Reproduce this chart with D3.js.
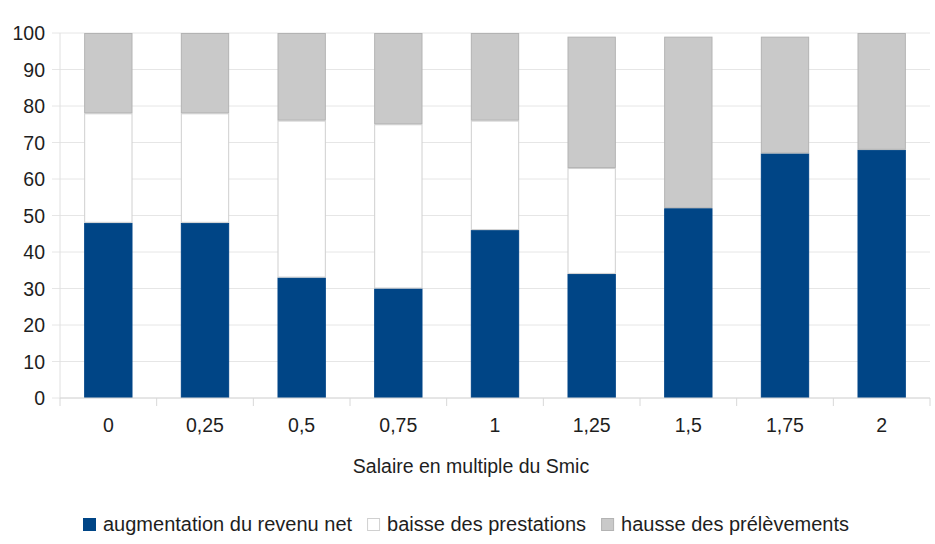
<!DOCTYPE html>
<html>
<head>
<meta charset="utf-8">
<script src="https://cdn.jsdelivr.net/npm/d3@7/dist/d3.min.js"></script>
<style>
  html, body { margin: 0; padding: 0; background: #fff; }
  svg { display: block; font-family: "Liberation Sans", Arial, sans-serif; }
</style>
</head>
<body>
<svg id="chart" width="935" height="544"></svg>
<script>
// Décomposition du gain par niveau de salaire (en %)
const categories = ["0", "0,25", "0,5", "0,75", "1", "1,25", "1,5", "1,75", "2"];
const revenuNet   = [48, 48, 33, 30, 46, 34, 52, 67, 68];
const prestations = [30, 30, 43, 45, 30, 29, 0, 0, 0];
const prelevements = [22, 22, 24, 25, 24, 36, 47, 32, 32];
const seriesNames = ["augmentation du revenu net", "baisse des prestations", "hausse des prélèvements"];
const yTicks = [0, 10, 20, 30, 40, 50, 60, 70, 80, 90, 100];

const fills = ["#004586", "#ffffff", "#c9c9c9"];
const strokes = ["#004586", "#d0d0d0", "#b3b3b3"];
const textColor = "#1e1e1e";

const svg = d3.select("#chart");
const margin = { left: 60, right: 5, top: 33, bottom: 146 };
const W = 935, H = 544;
const plotW = W - margin.left - margin.right;
const plotH = H - margin.top - margin.bottom;

const x = d3.scaleBand().domain(categories).range([margin.left, margin.left + plotW])
  .paddingInner(0.5).paddingOuter(0.25);
const y = d3.scaleLinear().domain([0, 100]).range([margin.top + plotH, margin.top]);

// grille horizontale
svg.append("g").selectAll("line").data(yTicks).join("line")
  .attr("x1", margin.left - 8).attr("x2", margin.left + plotW)
  .attr("y1", d => y(d)).attr("y2", d => y(d))
  .attr("stroke", "#e6e6e6").attr("stroke-width", 1);

// axe vertical
svg.append("line")
  .attr("x1", margin.left).attr("x2", margin.left)
  .attr("y1", y(100)).attr("y2", y(0))
  .attr("stroke", "#e0e0e0");

// libellés de l'axe Y
svg.append("g").selectAll("text").data(yTicks).join("text")
  .attr("x", margin.left - 15).attr("y", d => y(d))
  .attr("text-anchor", "end").attr("dominant-baseline", "central")
  .attr("font-size", 19.5).attr("fill", textColor)
  .text(d => d);

// empilement
const rows = categories.map((c, i) => ({
  cat: c, s0: revenuNet[i], s1: prestations[i], s2: prelevements[i]
}));
const stack = d3.stack().keys(["s0", "s1", "s2"])(rows);

stack.forEach((layer, k) => {
  svg.append("g").selectAll("rect").data(layer.filter(d => d[1] - d[0] > 0)).join("rect")
    .attr("x", d => x(d.data.cat) + 0.5)
    .attr("width", x.bandwidth() - 1)
    .attr("y", d => y(d[1]) + 0.5)
    .attr("height", d => y(d[0]) - y(d[1]) - 1)
    .attr("fill", fills[k])
    .attr("stroke", strokes[k]).attr("stroke-width", 1);
});

// axe horizontal
svg.append("line")
  .attr("x1", margin.left).attr("x2", margin.left + plotW)
  .attr("y1", y(0)).attr("y2", y(0))
  .attr("stroke", "#d8d8d8");
const step = x.step();
const bounds = d3.range(categories.length + 1).map(i => margin.left + i * step);
svg.append("g").selectAll("line").data(bounds).join("line")
  .attr("x1", d => d).attr("x2", d => d)
  .attr("y1", y(0)).attr("y2", y(0) + 8)
  .attr("stroke", "#d8d8d8");

svg.append("g").selectAll("text").data(categories).join("text")
  .attr("x", d => x(d) + x.bandwidth() / 2).attr("y", y(0) + 27)
  .attr("text-anchor", "middle").attr("dominant-baseline", "central")
  .attr("font-size", 19.5).attr("fill", textColor)
  .text(d => d);

svg.append("text")
  .attr("x", 471).attr("y", 466)
  .attr("text-anchor", "middle").attr("dominant-baseline", "central")
  .attr("font-size", 19.5).attr("fill", textColor)
  .text("Salaire en multiple du Smic");

// légende
const legend = svg.append("g");
let lx = 83;
seriesNames.forEach((name, k) => {
  const g = legend.append("g");
  g.append("rect").attr("x", lx + 0.5).attr("y", 518.5).attr("width", 12).attr("height", 12)
    .attr("fill", fills[k]).attr("stroke", strokes[k]);
  const t = g.append("text").attr("x", lx + 20).attr("y", 524)
    .attr("dominant-baseline", "central").attr("font-size", 20).attr("fill", textColor)
    .text(name);
  lx += 20 + t.node().getComputedTextLength() + 15;
});
</script>
</body>
</html>
